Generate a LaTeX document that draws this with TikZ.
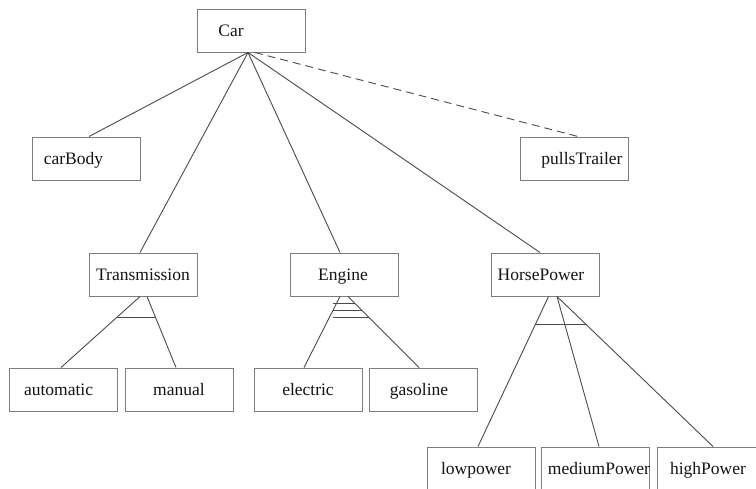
\documentclass[tikz,border=0pt]{standalone}
\usepackage{fontspec}
\setmainfont{Liberation Serif}
\usetikzlibrary{calc}
\definecolor{boxgray}{RGB}{125,125,125}
\definecolor{linegray}{RGB}{75,75,75}
\definecolor{txt}{RGB}{20,20,20}
\begin{document}
\begin{tikzpicture}[x=1pt,y=-1pt,
  box/.style={draw=boxgray, line width=1pt, minimum width=108pt, minimum height=43pt, inner sep=0pt},
  lbl/.style={text=txt, font=\fontsize{17.5}{20}\selectfont, inner sep=0pt, text height=15.5pt, text depth=3pt},
  link/.style={draw=linegray, line width=0.9pt},
  optlink/.style={link, dash pattern=on 8pt off 5pt}]
\useasboundingbox (0,0) rectangle (756,488);
\fill[white] (0,0) rectangle (756,488);
\clip (0,0) rectangle (756,488);

% nodes
\node[box, label={[lbl,xshift=-20pt]center:Car}] (car) at (251,30.5) {};
\node[box, label={[lbl,xshift=-12.5pt]center:carBody}] (body) at (86,158.5) {};
\node[box, label={[lbl,xshift=8pt]center:pullsTrailer}] (trailer) at (574,158.5) {};
\node[box, label={[lbl]center:Transmission}] (trans) at (143,274.5) {};
\node[box, label={[lbl,xshift=-1pt]center:Engine}] (eng) at (344,274.5) {};
\node[box, label={[lbl,xshift=-4.5pt]center:HorsePower}] (hp) at (545.5,274.5) {};
\node[box, label={[lbl,xshift=-5pt]center:automatic}] (auto) at (63.5,389.5) {};
\node[box, label={[lbl]center:manual}] (manual) at (179,389.5) {};
\node[box, label={[lbl]center:electric}] (elec) at (308,389.5) {};
\node[box, label={[lbl,xshift=-4pt]center:gasoline}] (gas) at (423,389.5) {};
\node[box, label={[lbl,xshift=-5pt]center:lowpower}] (low) at (481,468.5) {};
\node[box, label={[lbl,xshift=3.5pt]center:mediumPower}] (med) at (595.5,468.5) {};
\node[box, label={[lbl,xshift=-3pt]center:highPower}] (high) at (711,468.5) {};

% connectors from Car
\draw[link] ([xshift=-3pt]car.south) -- ([xshift=3pt]body.north);
\draw[link] ([xshift=-3pt]car.south) -- ([xshift=-3pt]trans.north);
\draw[link] ([xshift=-3pt]car.south) -- ([xshift=-4pt]eng.north);
\draw[link] ([xshift=-3pt]car.south) -- ([xshift=-5.5pt]hp.north);
\draw[optlink] ([xshift=4pt]car.south) -- ([xshift=4pt]trailer.north);

% Transmission (alternative)
\draw[link] ([xshift=-3pt]trans.south) coordinate (t1) -- ([xshift=-2.5pt]auto.north) coordinate (t2);
\draw[link] ([xshift=4pt]trans.south) coordinate (t3) -- ([xshift=-3pt]manual.north) coordinate (t4);
\draw[link] ($(t1)!0.29!(t2)$) -- ($(t3)!0.29!(t4)$);

% Engine
\draw[link] ([xshift=-4pt]eng.south) coordinate (e1) -- ([xshift=-4pt]elec.north) coordinate (e2);
\draw[link] ([xshift=4pt]eng.south) coordinate (e3) -- ([xshift=-4pt]gas.north) coordinate (e4);
\coordinate (r1) at ($(e3)!0.10!(e4)$);
\coordinate (r2) at ($(e3)!0.20!(e4)$);
\coordinate (r3) at ($(e3)!0.30!(e4)$);
\draw[link] ([xshift=-11pt]eng.south |- r1) -- (r1);
\draw[link] ([xshift=-11pt]eng.south |- r2) -- (r2);
\draw[link] ([xshift=-11pt]eng.south |- r3) -- (r3);

% HorsePower
\draw[link] ([xshift=3pt]hp.south) coordinate (h1) -- ([xshift=-3pt]low.north) coordinate (h2);
\draw[link] ([xshift=11.5pt]hp.south) -- ([xshift=3.5pt]med.north);
\draw[link] ([xshift=11.5pt]hp.south) coordinate (h3) -- ([xshift=2pt]high.north) coordinate (h4);
\draw[link] ($(h1)!0.185!(h2)$) -- ($(h3)!0.185!(h4)$);
\end{tikzpicture}
\end{document}
